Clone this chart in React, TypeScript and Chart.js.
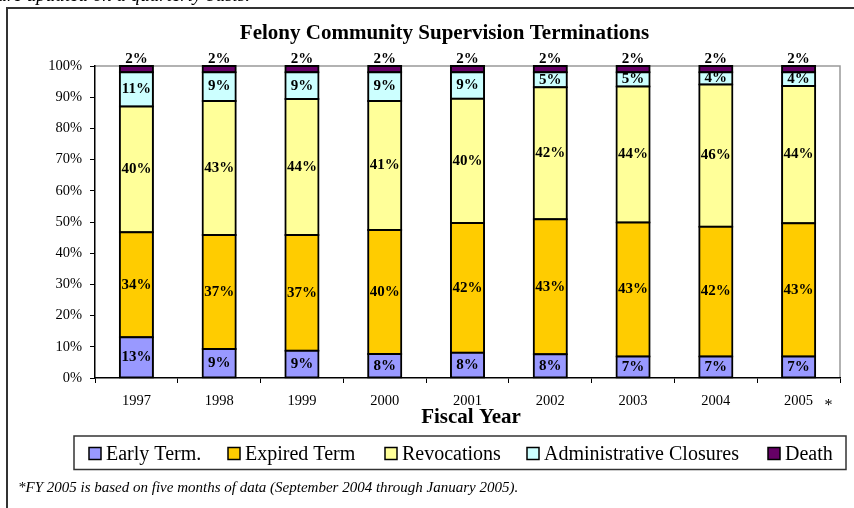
import React, { useEffect, useRef } from "react";
import { Chart, registerables } from "chart.js";

Chart.register(...registerables);

const years = ["1997", "1998", "1999", "2000", "2001", "2002", "2003", "2004", "2005"];
const earlyTerm = [13.1, 9.3, 8.7, 7.7, 8.1, 7.6, 6.9, 6.9, 6.9];
const expiredTerm = [33.6, 36.5, 37.1, 39.7, 41.6, 43.3, 42.9, 41.6, 42.7];
const revocations = [40.3, 43.0, 43.6, 41.4, 39.8, 42.3, 43.6, 45.6, 44.0];
const adminClosures = [11.0, 9.2, 8.6, 9.2, 8.5, 4.8, 4.6, 3.9, 4.4];
const death = [2.0, 2.0, 2.0, 2.0, 2.0, 2.0, 2.0, 2.0, 2.0];
const yTicks = [0, 10, 20, 30, 40, 50, 60, 70, 80, 90, 100];

const seriesNames = ["Early Term.", "Expired Term", "Revocations", "Administrative Closures", "Death"];
const seriesColors = ["#9999FF", "#FFCC00", "#FFFF99", "#CCFFFF", "#660066"];

const titleText = "Felony Community Supervision Terminations";
const xTitle = "Fiscal Year";
const footnote = "*FY 2005 is based on five months of data (September 2004 through January 2005).";
const topNote = "are updated on a quarterly basis.";

const FONT = "'Liberation Serif', 'Times New Roman', Times, serif";

const decor = {
  id: "decor",
  beforeDraw(chart: any) {
    const { ctx, chartArea: a } = chart;
    ctx.save();
    ctx.fillStyle = "#fff";
    ctx.fillRect(0, 0, chart.width, chart.height);
    // top cut-off note
    ctx.fillStyle = "#000";
    ctx.font = `italic 19px ${FONT}`;
    ctx.textAlign = "right";
    ctx.textBaseline = "alphabetic";
    ctx.fillText(topNote, 250, 1);
    // frame
    ctx.strokeStyle = "#333";
    ctx.lineWidth = 2;
    ctx.strokeRect(7, 8, chart.width + 20, chart.height + 20);
    // plot area top/right border
    ctx.strokeStyle = "#999";
    ctx.lineWidth = 1.5;
    ctx.beginPath();
    ctx.moveTo(a.left, a.top);
    ctx.lineTo(a.right, a.top);
    ctx.lineTo(a.right, a.bottom);
    ctx.stroke();
    ctx.restore();
  },
  afterDatasetsDraw(chart: any) {
    const { ctx } = chart;
    ctx.save();
    ctx.fillStyle = "#000";
    ctx.font = `bold 15px ${FONT}`;
    ctx.textAlign = "center";
    ctx.textBaseline = "middle";
    const n = chart.data.datasets.length;
    chart.data.datasets.forEach((ds: any, di: number) => {
      const meta = chart.getDatasetMeta(di);
      meta.data.forEach((bar: any, i: number) => {
        const v = ds.data[i];
        const txt = Math.round(v) + "%";
        if (di === n - 1) {
          ctx.fillText(txt, bar.x, bar.y - 6.5);
        } else {
          ctx.fillText(txt, bar.x, (bar.y + bar.base) / 2);
        }
      });
    });
    ctx.restore();
  },
  afterDraw(chart: any) {
    const { ctx } = chart;
    const xs = chart.scales.x;
    ctx.save();
    ctx.fillStyle = "#000";
    // title
    ctx.font = `bold 21px ${FONT}`;
    ctx.textAlign = "center";
    ctx.textBaseline = "alphabetic";
    ctx.fillText(titleText, 444.5, 39);
    // x title
    ctx.fillText(xTitle, 471, 423);
    // asterisk
    ctx.font = `16px ${FONT}`;
    ctx.fillText("*", xs.getPixelForValue(years.length - 1) + 30, 410);
    // legend box
    ctx.strokeStyle = "#333";
    ctx.lineWidth = 1.5;
    ctx.strokeRect(74, 436, 772, 33.5);
    const lx = [89, 228, 385, 527, 768];
    ctx.font = `20px ${FONT}`;
    ctx.textAlign = "left";
    seriesNames.forEach((name, i) => {
      ctx.fillStyle = seriesColors[i];
      ctx.fillRect(lx[i], 447.5, 12, 12);
      ctx.strokeStyle = "#000";
      ctx.lineWidth = 1.5;
      ctx.strokeRect(lx[i], 447.5, 12, 12);
      ctx.fillStyle = "#000";
      ctx.fillText(name, lx[i] + 17, 460);
    });
    // footnote
    ctx.font = `italic 15px ${FONT}`;
    ctx.fillText(footnote, 18, 492);
    ctx.restore();
  },
};

export default function App() {
  const ref = useRef<HTMLCanvasElement | null>(null);
  useEffect(() => {
    if (!ref.current) return;
    const seriesData = [earlyTerm, expiredTerm, revocations, adminClosures, death];
    const chart = new Chart(ref.current, {
      type: "bar",
      data: {
        labels: years,
        datasets: seriesData.map((d, i) => ({
          label: seriesNames[i],
          data: d,
          backgroundColor: seriesColors[i],
          borderColor: "#000",
          borderWidth: 2,
          borderSkipped: false,
          inflateAmount: 1,
          barPercentage: 0.4,
          categoryPercentage: 1,
          clip: false as any,
        })),
      },
      options: {
        responsive: false,
        animation: false,
        devicePixelRatio: 1,
        layout: { padding: { top: 66, right: 14, bottom: 0, left: 0 } },
        plugins: { legend: { display: false }, title: { display: false }, tooltip: { enabled: false } },
        scales: {
          x: {
            stacked: true,
            afterFit: (s: any) => {
              s.height = 130;
            },
            grid: { offset: true, drawOnChartArea: false, drawTicks: true, tickLength: 5, color: "#000", lineWidth: 1 },
            border: { display: true, color: "#000", width: 1.5 },
            ticks: { color: "#000", font: { family: FONT, size: 14.5 }, padding: 9, maxRotation: 0 },
          },
          y: {
            stacked: true,
            min: 0,
            max: 100,
            afterFit: (s: any) => {
              s.width = 95;
            },
            afterBuildTicks: (s: any) => {
              s.ticks = yTicks.map((v) => ({ value: v }));
            },
            grid: { drawOnChartArea: false, drawTicks: true, tickLength: 5, color: "#000", lineWidth: 1 },
            border: { display: true, color: "#000", width: 1.5 },
            ticks: {
              color: "#000",
              font: { family: FONT, size: 14.5 },
              padding: 8,
              callback: (v: any) => v + "%",
            },
          },
        },
      },
      plugins: [decor],
    });
    return () => chart.destroy();
  }, []);
  return (
    <div style={{ position: "absolute", left: 0, top: 0, width: 854, height: 508 }}>
      <canvas ref={ref} width={854} height={508} style={{ display: "block" }} />
    </div>
  );
}
